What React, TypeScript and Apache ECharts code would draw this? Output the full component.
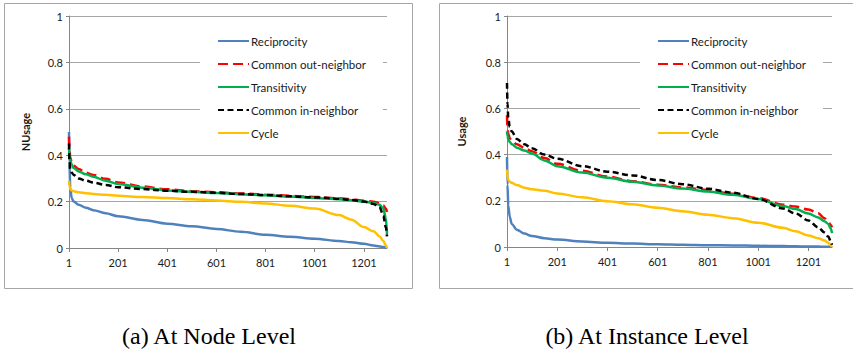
import React, { useEffect, useRef } from "react";
import * as echarts from "echarts";

// x positions (1-based row index)
const idx = [1, 3, 6, 12, 20, 40, 70, 100, 150, 201, 300, 401, 500, 601, 700, 801, 900, 1001, 1100, 1150, 1201, 1240, 1265, 1280, 1290, 1295];
const xTicks = [1, 201, 401, 601, 801, 1001, 1201];
const yTicks = [0, 0.2, 0.4, 0.6, 0.8, 1];

const seriesNames = ["Reciprocity", "Common out-neighbor", "Transitivity", "Common in-neighbor", "Cycle"];

// (a) At Node Level
const nodeReciprocity = [0.5, 0.36, 0.26, 0.215, 0.2, 0.186, 0.174, 0.163, 0.15, 0.137, 0.121, 0.105, 0.094, 0.082, 0.07, 0.057, 0.048, 0.04, 0.03, 0.025, 0.018, 0.011, 0.007, 0.004, 0.002, 0.0];
const nodeCommonOut = [0.48, 0.42, 0.39, 0.37, 0.355, 0.34, 0.325, 0.315, 0.298, 0.282, 0.265, 0.253, 0.245, 0.24, 0.235, 0.23, 0.225, 0.22, 0.214, 0.21, 0.204, 0.199, 0.193, 0.183, 0.17, 0.155];
const nodeTransitivity = [0.43, 0.4, 0.38, 0.36, 0.345, 0.33, 0.318, 0.307, 0.29, 0.276, 0.26, 0.248, 0.242, 0.237, 0.232, 0.227, 0.222, 0.216, 0.21, 0.206, 0.2, 0.194, 0.186, 0.17, 0.13, 0.06];
const nodeCommonIn = [0.45, 0.37, 0.34, 0.325, 0.315, 0.3, 0.29, 0.282, 0.272, 0.262, 0.254, 0.247, 0.242, 0.238, 0.233, 0.228, 0.223, 0.218, 0.212, 0.207, 0.2, 0.19, 0.175, 0.14, 0.09, 0.05];
const nodeCycle = [0.29, 0.265, 0.255, 0.248, 0.245, 0.24, 0.236, 0.233, 0.229, 0.225, 0.22, 0.215, 0.21, 0.205, 0.199, 0.192, 0.182, 0.17, 0.142, 0.122, 0.09, 0.072, 0.05, 0.03, 0.012, 0.0];

// (b) At Instance Level
const instReciprocity = [0.39, 0.27, 0.18, 0.13, 0.1, 0.075, 0.058, 0.048, 0.038, 0.032, 0.024, 0.018, 0.015, 0.012, 0.01, 0.008, 0.007, 0.005, 0.004, 0.003, 0.002, 0.002, 0.001, 0.001, 0.0005, 0.0];
const instCommonOut = [0.57, 0.52, 0.49, 0.47, 0.46, 0.445, 0.43, 0.415, 0.385, 0.36, 0.33, 0.305, 0.285, 0.27, 0.258, 0.247, 0.23, 0.212, 0.183, 0.175, 0.162, 0.146, 0.125, 0.11, 0.095, 0.085];
const instTransitivity = [0.5, 0.48, 0.465, 0.455, 0.445, 0.43, 0.418, 0.405, 0.375, 0.35, 0.322, 0.3, 0.283, 0.266, 0.253, 0.24, 0.226, 0.208, 0.177, 0.164, 0.145, 0.128, 0.112, 0.1, 0.08, 0.06];
const instCommonIn = [0.71, 0.62, 0.56, 0.52, 0.5, 0.468, 0.445, 0.428, 0.4, 0.382, 0.35, 0.326, 0.31, 0.29, 0.272, 0.252, 0.235, 0.208, 0.167, 0.145, 0.115, 0.085, 0.063, 0.045, 0.025, 0.01];
const instCycle = [0.335, 0.3, 0.29, 0.283, 0.278, 0.268, 0.257, 0.25, 0.243, 0.232, 0.215, 0.198, 0.185, 0.17, 0.155, 0.14, 0.125, 0.105, 0.083, 0.068, 0.05, 0.038, 0.028, 0.018, 0.008, 0.0];

const captions = ["(a) At Node Level", "(b) At Instance Level"];
const yNames = ["NUsage", "Usage"];

const colors = ["#4F81BD", "#FF0000", "#00B050", "#000000", "#FFC000"];
const dashes: (number[] | "solid")[] = ["solid", [10, 5], "solid", [6, 3.5], "solid"];

const FONT = "Lato";

function buildSeries(gridIndex: number, sets: number[][]) {
  return sets.map((vals, i) => ({
    name: seriesNames[i],
    type: "line",
    xAxisIndex: gridIndex,
    yAxisIndex: gridIndex,
    symbol: "none",
    smooth: 0.35,
    smoothMonotone: "x",
    z: i === 0 || i === 4 ? 2 : 3,
    lineStyle: { color: colors[i], width: 2.5, type: dashes[i], cap: "butt" },
    itemStyle: { color: colors[i] },
    data: vals.map((v, k) => [idx[k] - 1, v]),
  }));
}

export default function App() {
  const ref = useRef<HTMLDivElement>(null);
  useEffect(() => {
    if (!ref.current) return;
    const chart = echarts.init(ref.current, undefined, { renderer: "svg" });
    const grids = [
      { left: 69, right: 853 - 387, top: 16, bottom: 353 - 248 },
      { left: 507, right: 853 - 832, top: 16, bottom: 353 - 247 },
    ];
    const xAxes = grids.map((_, g) => ({
      type: "value",
      gridIndex: g,
      min: 0,
      max: 1294,
      interval: 200,
      axisLine: { lineStyle: { color: "#868686", width: 1 } },
      axisTick: { show: true, length: 4, lineStyle: { color: "#868686" } },
      splitLine: { show: false },
      axisLabel: {
        margin: 9,
        color: "#1a1a1a",
        fontFamily: FONT,
        fontSize: 11,
        showMaxLabel: false,
        formatter: (v: number) => (xTicks.includes(v + 1) ? String(v + 1) : ""),
      },
    }));
    const yAxes = grids.map((_, g) => ({
      type: "value",
      gridIndex: g,
      min: yTicks[0],
      max: yTicks[yTicks.length - 1],
      interval: 0.2,
      name: yNames[g],
      nameLocation: "middle",
      nameGap: g === 0 ? 38 : 40,
      nameTextStyle: { fontFamily: FONT, fontSize: 11, fontWeight: "bold", color: "#1a1a1a" },
      axisLine: { show: true, lineStyle: { color: "#868686", width: 1 } },
      axisTick: { show: true, length: 3, lineStyle: { color: "#868686" } },
      splitLine: { show: true, lineStyle: { color: "#a6a6a6", width: 1 } },
      axisLabel: { margin: 6, color: "#1a1a1a", fontFamily: FONT, fontSize: 11 },
    }));
    const legendBase = {
      orient: "vertical",
      top: 28,
      backgroundColor: "#ffffff",
      padding: [7, 17, 8, 17],
      itemWidth: 31,
      itemHeight: 14,
      itemGap: 11,
      itemStyle: { opacity: 0 },
      textStyle: { fontFamily: FONT, fontSize: 11.5, color: "#1a1a1a", padding: [0, 0, 0, -3] },
      data: seriesNames,
    };
    chart.setOption({
      animation: false,
      grid: grids,
      xAxis: xAxes,
      yAxis: yAxes,
      legend: [
        { ...legendBase, left: 200 },
        { ...legendBase, left: 640 },
      ],
      graphic: [
        { type: "rect", z: -10, shape: { x: 4.5, y: 3.5, width: 408, height: 285 }, style: { fill: "none", stroke: "#a6a6a6", lineWidth: 1 } },
        { type: "rect", z: -10, shape: { x: 439.5, y: 3.5, width: 430, height: 285 }, style: { fill: "none", stroke: "#a6a6a6", lineWidth: 1 } },
        { type: "text", x: 209, y: 336, style: { text: captions[0], font: '24px "Liberation Serif"', fill: "#000", textAlign: "center", textVerticalAlign: "middle" } },
        { type: "text", x: 647, y: 336, style: { text: captions[1], font: '24px "Liberation Serif"', fill: "#000", textAlign: "center", textVerticalAlign: "middle" } },
      ],
      series: [
        ...buildSeries(0, [nodeReciprocity, nodeCommonOut, nodeTransitivity, nodeCommonIn, nodeCycle]),
        ...buildSeries(1, [instReciprocity, instCommonOut, instTransitivity, instCommonIn, instCycle]),
      ],
    });
    return () => chart.dispose();
  }, []);
  return (
    <div
      ref={ref}
      style={{ position: "fixed", left: 0, top: 0, width: 853, height: 353, background: "#fff" }}
    />
  );
}
